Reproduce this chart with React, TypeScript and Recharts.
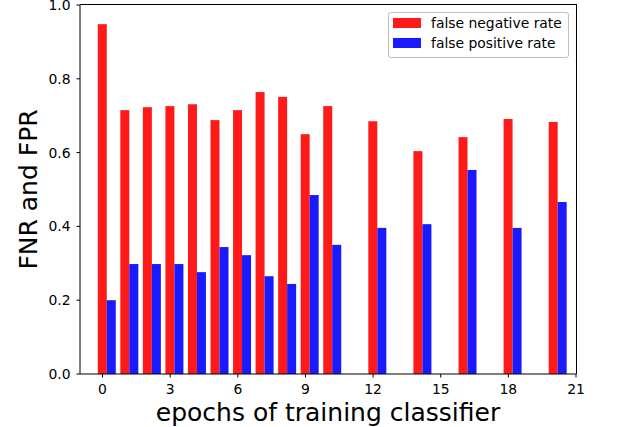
import { ComposedChart, Bar, XAxis, YAxis, Legend, Label } from 'recharts';

// epochs that were evaluated (11, 13, 15, 17, 19 were skipped)
const epochs = [0, 1, 2, 3, 4, 5, 6, 7, 8, 9, 10, 12, 14, 16, 18, 20];
const falseNegativeRate = [
  0.948, 0.715, 0.723, 0.726, 0.731, 0.688, 0.715, 0.764, 0.751, 0.65, 0.726,
  0.685, 0.604, 0.642, 0.691, 0.683,
];
const falsePositiveRate = [
  0.2, 0.298, 0.298, 0.298, 0.276, 0.344, 0.322, 0.265, 0.244, 0.485, 0.35,
  0.396, 0.406, 0.553, 0.396, 0.466,
];
const xTicks = [0, 3, 6, 9, 12, 15, 18, 21];
const yTicks = [0, 0.2, 0.4, 0.6, 0.8, 1.0];
const xDomain = [-1, 21];
const yDomain = [0, 1];

const data = epochs.map((epoch, i) => ({
  epoch,
  fnr: falseNegativeRate[i],
  fpr: falsePositiveRate[i],
}));

const FONT = 'DejaVu Sans';
const RED = '#ff1a1a';
const BLUE = '#1a1aff';

// plot box, used for the top/right spines
const MARGIN = { top: 5, right: 64, left: 0, bottom: 0 };
const Y_AXIS_W = 80;
const X_AXIS_H = 53;
const W = 640;
const H = 427;

// matplotlib puts the first bar centred on the tick, the second one right of it
const ShiftedBar = (props: any) => {
  const { x, y, width, height, fill } = props;
  if (x == null || !height) return null;
  return <rect x={x + width / 2} y={y} width={width} height={height} fill={fill} />;
};

const LegendBox = ({ payload }: any) => (
  <div
    style={{
      boxSizing: 'border-box',
      width: 181,
      height: 46,
      border: '1px solid #c0c0c0',
      borderRadius: 3,
      background: '#fff',
      position: 'relative',
      fontFamily: FONT,
      fontSize: 13.9,
      color: '#000',
    }}
  >
    {(payload || []).map((p: any, i: number) => (
      <div
        key={p.value}
        style={{
          position: 'absolute',
          left: 3.5,
          top: 4.6 + i * 20.8,
          height: 10,
          display: 'flex',
          alignItems: 'center',
        }}
      >
        <span style={{ display: 'inline-block', width: 28, height: 10, background: p.color }} />
        <span style={{ marginLeft: 10.5, whiteSpace: 'nowrap', lineHeight: '10px' }}>{p.value}</span>
      </div>
    ))}
  </div>
);

const tickStyle = { fontFamily: FONT, fontSize: 13.9, fill: '#000' };

export default function App() {
  return (
    <div style={{ position: 'absolute', left: 0, top: 0, width: W, height: H, background: '#fff' }}>
      <ComposedChart width={W} height={H} data={data} margin={MARGIN} barGap={0}>
        <XAxis
          dataKey="epoch"
          type="number"
          domain={xDomain}
          ticks={xTicks}
          interval={0}
          height={X_AXIS_H}
          tick={tickStyle}
          tickSize={3.5}
          tickMargin={7}
          tickLine={{ stroke: '#000' }}
          axisLine={{ stroke: '#000' }}
        >
          <Label
            content={({ viewBox }: any) => (
              <text
                x={viewBox.x + viewBox.width / 2}
                y={viewBox.y + 47}
                textAnchor="middle"
                fontFamily={FONT}
                fontSize={25}
                fill="#000"
              >
                epochs of training classifier
              </text>
            )}
          />
        </XAxis>
        <YAxis
          type="number"
          domain={yDomain}
          ticks={yTicks}
          interval={0}
          width={Y_AXIS_W}
          tickFormatter={(v: number) => v.toFixed(1)}
          tick={tickStyle}
          tickSize={3.5}
          tickMargin={6}
          tickLine={{ stroke: '#000' }}
          axisLine={{ stroke: '#000' }}
        >
          <Label
            content={({ viewBox }: any) => (
              <text
                x={0}
                y={0}
                transform={`translate(37, ${viewBox.y + viewBox.height / 2}) rotate(-90)`}
                textAnchor="middle"
                fontFamily={FONT}
                fontSize={25}
                fill="#000"
              >
                FNR and FPR
              </text>
            )}
          />
        </YAxis>
        <Legend
          layout="horizontal"
          verticalAlign="middle"
          align="center"
          content={<LegendBox />}
          wrapperStyle={{ left: 388, top: 12, width: 181, height: 46 }}
        />
        <Bar
          dataKey="fnr"
          name="false negative rate"
          fill={RED}
          barSize={9}
          shape={ShiftedBar}
          isAnimationActive={false}
        />
        <Bar
          dataKey="fpr"
          name="false positive rate"
          fill={BLUE}
          barSize={9}
          shape={ShiftedBar}
          isAnimationActive={false}
        />
      </ComposedChart>
      {/* top and right spines of the matplotlib box */}
      <div
        style={{
          position: 'absolute',
          boxSizing: 'border-box',
          left: MARGIN.left + Y_AXIS_W,
          top: MARGIN.top - 1,
          width: W - MARGIN.right - MARGIN.left - Y_AXIS_W + 1,
          height: H - MARGIN.top - MARGIN.bottom - X_AXIS_H + 1,
          borderTop: '1px solid #000',
          borderRight: '1px solid #000',
          pointerEvents: 'none',
        }}
      />
    </div>
  );
}
